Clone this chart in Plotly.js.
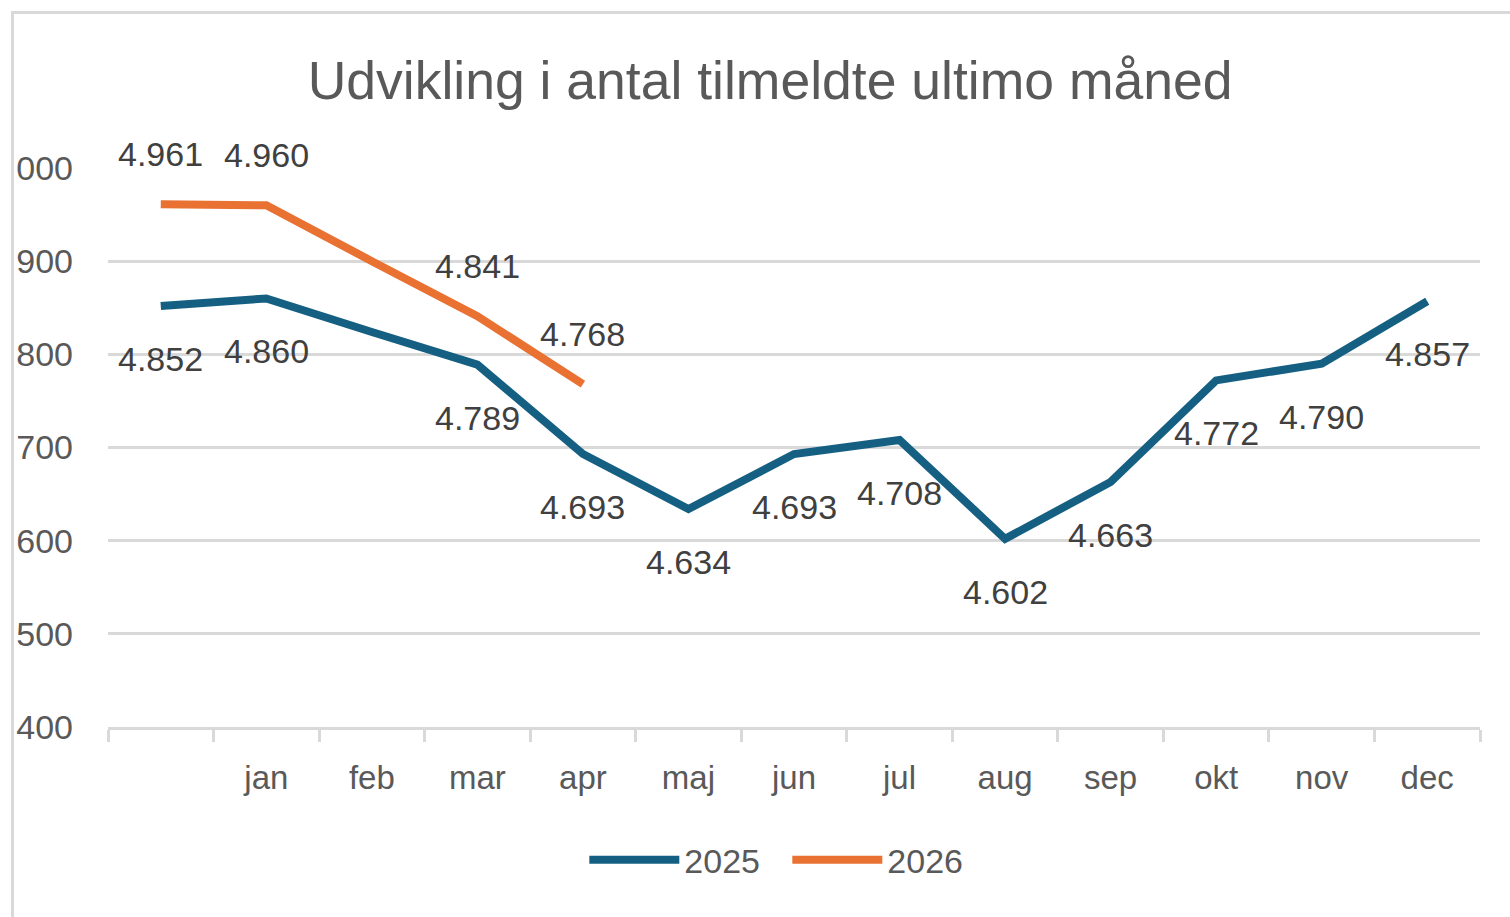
<!DOCTYPE html>
<html>
<head>
<meta charset="utf-8">
<script src="https://cdn.plot.ly/plotly-3.0.1.min.js"></script>
<style>
  html, body { margin: 0; padding: 0; background: #ffffff; }
  #wrap { position: relative; width: 1510px; height: 917px; overflow: hidden; }
  #chart { position: absolute; left: 0; top: 0; width: 1510px; height: 917px; }
  #frame { position: absolute; left: 11px; top: 11px; width: 1510px; height: 917px;
           border-left: 3px solid #d9d9d9; border-top: 3px solid #d9d9d9; pointer-events: none; }
</style>
</head>
<body>
<div id="wrap">
  <div id="chart"></div>
  <div id="frame"></div>
</div>
<script>
// ---- data ----
const categories = [" ", "jan", "feb", "mar", "apr", "maj", "jun", "jul", "aug", "sep", "okt", "nov", "dec"];
const values2025 = [4852, 4860, 4824, 4789, 4693, 4634, 4693, 4708, 4602, 4663, 4772, 4790, 4857];
const categories2026 = [" ", "jan", "feb", "mar", "apr"];
const values2026 = [4961, 4960, 4900, 4841, 4768];
const unlabeled = ["feb"];               // points without a data label in the original
const yTickValues = [4400, 4500, 4600, 4700, 4800, 4900, 5000];
const yTickLabels = ["400", "500", "600", "700", "800", "900", "000"];   // as visible (left part cropped)
const seriesNames = ["2025", "2026"];
const titleText = "Udvikling i antal tilmeldte ultimo måned";

const colors = ["#156082", "#E97132"];
const fmt = v => String(v).replace(/\B(?=(\d{3})+(?!\d))/g, ".");

const traces = [
  { x: categories, y: values2025, name: seriesNames[0], type: "scatter", mode: "lines",
    line: { color: colors[0], width: 8 }, hoverinfo: "skip" },
  { x: categories2026, y: values2026, name: seriesNames[1], type: "scatter", mode: "lines",
    line: { color: colors[1], width: 8 }, hoverinfo: "skip" }
];

const labelFont = { family: "Liberation Sans, Arial, sans-serif", size: 34, color: "#404040" };
const annotations = [];
categories.forEach((c, i) => {
  if (unlabeled.includes(c)) return;
  annotations.push({ x: c, y: values2025[i], xref: "x", yref: "y", text: fmt(values2025[i]),
    showarrow: false, yshift: -53, xanchor: "center", yanchor: "middle", font: labelFont });
});
categories2026.forEach((c, i) => {
  if (unlabeled.includes(c)) return;
  annotations.push({ x: c, y: values2026[i], xref: "x", yref: "y", text: fmt(values2026[i]),
    showarrow: false, yshift: 50, xanchor: "center", yanchor: "middle", font: labelFont });
});

const layout = {
  width: 1510, height: 917,
  paper_bgcolor: "#ffffff", plot_bgcolor: "#ffffff",
  margin: { l: 108, r: 30, t: 168, b: 190 },
  title: { text: titleText, xref: "container", yref: "container", x: 0.51, y: 0.913,
    xanchor: "center", yanchor: "middle",
    font: { family: "Liberation Sans, Arial, sans-serif", size: 53.5, color: "#595959" } },
  xaxis: { type: "category", categoryorder: "array", categoryarray: categories,
    range: [-0.5, categories.length - 0.5],
    showgrid: false, showline: true, linecolor: "#d9d9d9", linewidth: 3,
    ticks: "outside", tickson: "boundaries", ticklen: 12, tickwidth: 3, tickcolor: "#d9d9d9",
    tickfont: { family: "Liberation Sans, Arial, sans-serif", size: 33, color: "#595959" },
    ticklabelstandoff: 19, zeroline: false, fixedrange: true },
  yaxis: { range: [4400, 5000], tickmode: "array", tickvals: yTickValues, ticktext: yTickLabels,
    showgrid: true, gridcolor: "#d9d9d9", gridwidth: 3, showline: false, zeroline: false,
    ticks: "", ticklabelstandoff: 34,
    tickfont: { family: "Liberation Sans, Arial, sans-serif", size: 34, color: "#595959" },
    fixedrange: true },
  showlegend: true,
  legend: { orientation: "h", xref: "container", yref: "container", x: 0.5214, y: 0.062,
    xanchor: "center", yanchor: "middle", itemwidth: 90, entrywidth: 98, entrywidthmode: "pixels",
    font: { family: "Liberation Sans, Arial, sans-serif", size: 34, color: "#595959" } },
  annotations: annotations
};

Plotly.newPlot("chart", traces, layout, { displayModeBar: false, staticPlot: true });
</script>
</body>
</html>
